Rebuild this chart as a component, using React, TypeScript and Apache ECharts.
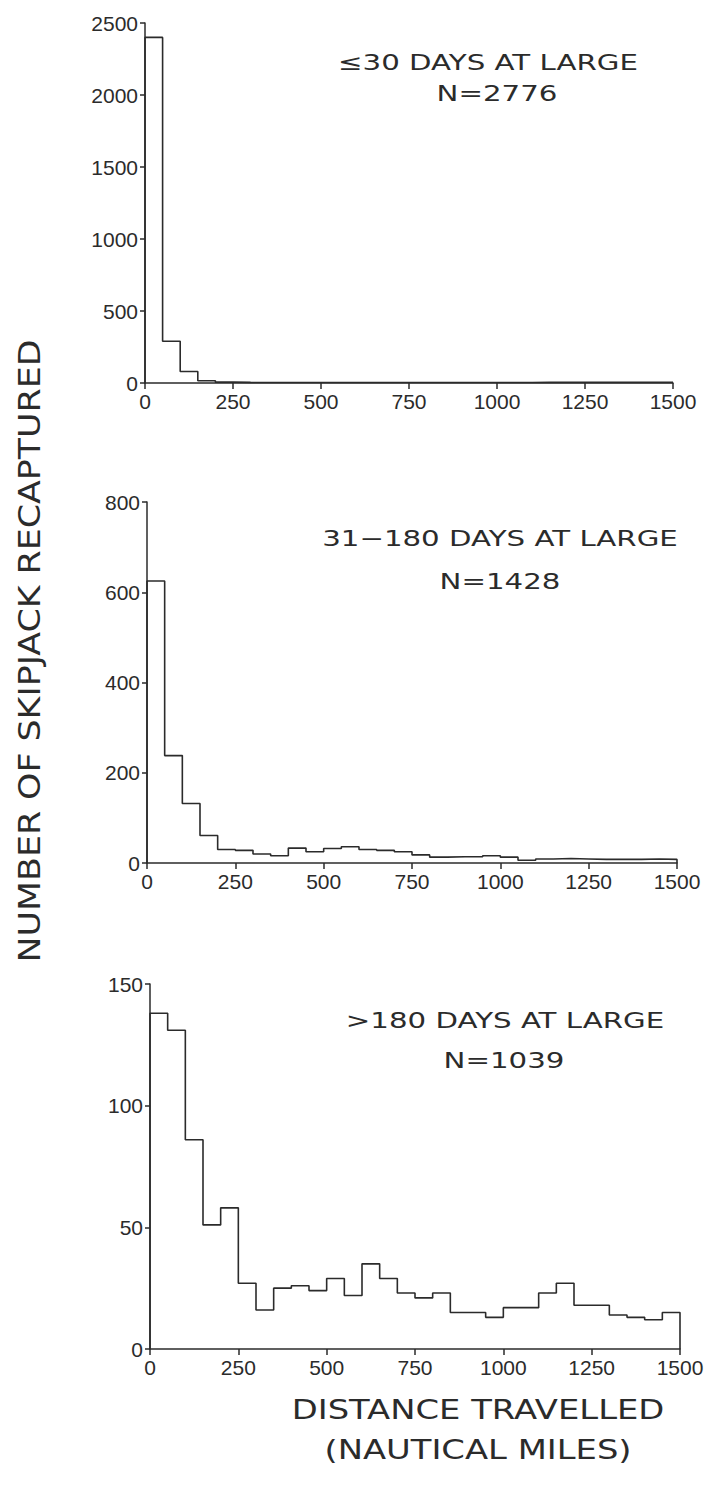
import React, { useEffect, useRef } from "react";
import * as echarts from "echarts";

// Bin left edges (nautical miles), 50-mile bins
const binEdges = [0, 50, 100, 150, 200, 250, 300, 350, 400, 450, 500, 550, 600, 650, 700, 750, 800, 850, 900, 950, 1000, 1050, 1100, 1150, 1200, 1250, 1300, 1350, 1400, 1450];
const binEnd = 1500;

// <=30 days at large (N=2776)
const shortCounts = [2400, 290, 80, 16, 6, 4, 3, 3, 3, 3, 3, 3, 3, 3, 3, 3, 3, 3, 3, 3, 3, 3, 4, 4, 4, 4, 4, 4, 4, 4];
// 31-180 days at large (N=1428)
const midCounts = [625, 238, 132, 61, 30, 28, 20, 16, 33, 25, 32, 36, 30, 28, 25, 18, 13, 14, 14, 16, 13, 6, 9, 10, 9, 8, 8, 8, 9, 8];
// >180 days at large (N=1039)
const longCounts = [138, 131, 86, 51, 58, 27, 16, 25, 26, 24, 29, 22, 35, 29, 23, 21, 23, 15, 15, 13, 17, 17, 23, 27, 18, 18, 14, 13, 12, 15];

const xTickInterval = 250;
const yMaxes = [2500, 800, 150];
const yIntervals = [500, 200, 50];

const panelTitles = ["≤30 DAYS AT LARGE", "31−180 DAYS AT LARGE", ">180 DAYS AT LARGE"];
const panelNs = ["N=2776", "N=1428", "N=1039"];

const yAxisTitle = "NUMBER OF SKIPJACK RECAPTURED";
const xAxisTitle1 = "DISTANCE TRAVELLED";
const xAxisTitle2 = "(NAUTICAL MILES)";

const INK = "#2b2b2b";
const TICK_FONT = "'Liberation Sans', Arial, sans-serif";
const TITLE_FONT = "'DejaVu Sans', sans-serif";

function stepData(counts: number[]) {
  const pts: number[][] = [[binEdges[0], 0]];
  counts.forEach((c, i) => pts.push([binEdges[i], c]));
  pts.push([binEnd, counts[counts.length - 1]]);
  pts.push([binEnd, 0]);
  return pts;
}

export default function App() {
  const ref = useRef<HTMLDivElement>(null);
  useEffect(() => {
    if (!ref.current) return;
    const chart = echarts.init(ref.current, undefined, { renderer: "svg" });
    const grids = [
      { left: 145, top: 23, width: 528, height: 360 },
      { left: 147, top: 502, width: 530, height: 361 },
      { left: 150, top: 984, width: 530, height: 365 },
    ];
    const allCounts = [shortCounts, midCounts, longCounts];
    const textStyle = (size: number) => ({
      fontFamily: TITLE_FONT,
      fontSize: size,
      fill: INK,
      align: "center",
      verticalAlign: "middle",
    });
    const annot = [
      { t: panelTitles[0], x: 488, y: 62 },
      { t: panelNs[0], x: 497, y: 93 },
      { t: panelTitles[1], x: 500, y: 538 },
      { t: panelNs[1], x: 500, y: 581 },
      { t: panelTitles[2], x: 505, y: 1020 },
      { t: panelNs[2], x: 504, y: 1060 },
    ];
    const plain = (v: number) => String(v);
    chart.setOption({
      animation: false,
      backgroundColor: "#ffffff",
      grid: grids.map((g) => ({ ...g, containLabel: false })),
      xAxis: grids.map((_, i) => ({
        type: "value",
        gridIndex: i,
        min: 0,
        max: binEnd,
        interval: xTickInterval,
        axisLine: { show: true, onZero: false, lineStyle: { color: INK, width: 1.5 } },
        axisTick: { show: true, length: 6, lineStyle: { color: INK, width: 1.5 } },
        axisLabel: { fontFamily: TICK_FONT, fontSize: 21, color: INK, margin: 8, formatter: plain },
        splitLine: { show: false },
      })),
      yAxis: grids.map((_, i) => ({
        type: "value",
        gridIndex: i,
        min: 0,
        max: yMaxes[i],
        interval: yIntervals[i],
        axisLine: { show: true, lineStyle: { color: INK, width: 1.5 } },
        axisTick: { show: true, length: 5, lineStyle: { color: INK, width: 1.5 } },
        axisLabel: { fontFamily: TICK_FONT, fontSize: 21, color: INK, margin: 7, formatter: plain },
        splitLine: { show: false },
      })),
      series: allCounts.map((c, i) => ({
        type: "line",
        xAxisIndex: i,
        yAxisIndex: i,
        step: "end",
        data: stepData(c),
        showSymbol: false,
        symbol: "none",
        lineStyle: { color: INK, width: 1.6 },
        clip: false,
      })),
      graphic: [
        ...annot.map((a) => ({
          type: "text",
          x: a.x,
          y: a.y,
          scaleX: 1.33,
          style: { text: a.t, ...textStyle(22) },
        })),
        {
          type: "text",
          x: 30,
          y: 651,
          rotation: Math.PI / 2,
          scaleX: 1.16,
          style: { text: yAxisTitle, ...textStyle(30) },
        },
        {
          type: "text",
          x: 478,
          y: 1410,
          scaleX: 1.3,
          style: { text: xAxisTitle1, ...textStyle(26) },
        },
        {
          type: "text",
          x: 478,
          y: 1450,
          scaleX: 1.3,
          style: { text: xAxisTitle2, ...textStyle(26) },
        },
      ],
    });
    return () => chart.dispose();
  }, []);
  return (
    <div
      ref={ref}
      style={{ position: "absolute", left: 0, top: 0, width: 712, height: 1492, background: "#fff" }}
    />
  );
}
